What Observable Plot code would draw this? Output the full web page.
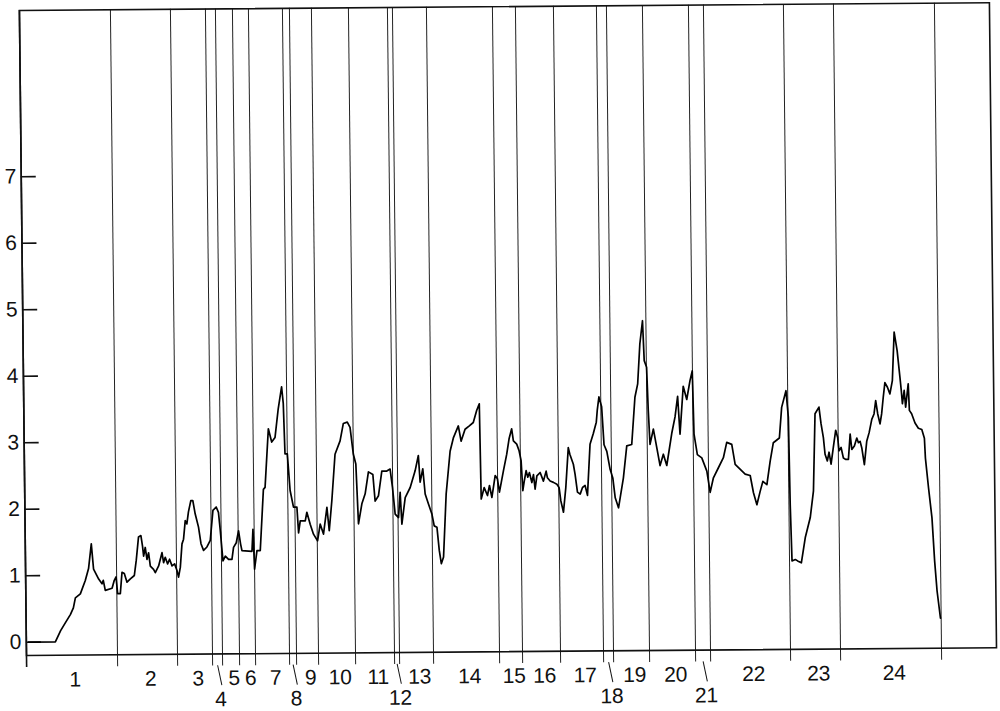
<!DOCTYPE html>
<html>
<head>
<meta charset="utf-8">
<script src="https://cdn.jsdelivr.net/npm/d3@7"></script>
<script src="https://cdn.jsdelivr.net/npm/@observablehq/plot@0.6"></script>
<style>
html, body { margin: 0; padding: 0; background: #fff; }
#chart svg { display: block; transform-origin: 26px 655px; transform: matrix(1, -0.008, 0.011, 1, 0, 0); }
</style>
</head>
<body>
<div id="chart"></div>
<script>
// Segment end positions (time units), one per numbered segment 1..24
const boundaries = [91, 151, 186, 196, 213, 229, 263, 270, 292, 329, 368, 373, 407, 473, 496, 534, 577, 587, 623, 669, 684, 764, 814, 915];
const segmentLabels = ["1","2","3","4","5","6","7","8","9","10","11","12","13","14","15","16","17","18","19","20","21","22","23","24"];
const lowerRowLabels = ["4","8","12","18","21"];
const yTicks = [0, 1, 2, 3, 4, 5, 6, 7];
const xDomain = [0, 970];
const yDomain = [-0.2, 9.5];

// Trace: [time, value]
const trace = [
[2,0],[29,0],[34.4,0.17],[39.3,0.29],[44.3,0.41],[47.4,0.51],[49.5,0.66],[54.5,0.72],[59.6,0.92],[63,1.10],[66,1.47],[68,1.09],[73,0.94],[76.3,0.87],[77.6,0.92],[79.5,0.77],[86.3,0.80],[88.6,0.92],[90.4,0.97],[91.8,0.72],[94.5,0.72],[96.4,1.04],[98.7,1.02],[101.3,0.89],
[104.7,0.94],[108.7,0.99],[110.8,1.22],[113.3,1.57],[115.7,1.59],[117.2,1.43],[118.2,1.28],[119.9,1.41],[121.5,1.23],[123.2,1.33],[124.8,1.13],[128,1.08],[129.7,1.03],[133.1,1.13],[136.6,1.33],[138.1,1.18],[139.8,1.26],[142.1,1.16],[144.1,1.23],[146.5,1.13],[149.1,1.16],[151.4,1.06],[152.9,0.96],[154.8,1.11],[156.7,1.46],[158.3,1.53],[160.2,1.81],[161.8,1.76],[163.5,1.94],[166,2.11],[168,2.11],[170.2,1.91],[173.4,1.71],[175.7,1.46],[178.2,1.36],[181.6,1.41],[185,1.51],[188,1.96],[191.3,2.01],[193.5,1.93],[195.1,1.66],[197.5,1.20],[199.9,1.27],[203.1,1.22],[206.5,1.22],[208.2,1.40],[211,1.47],[213.4,1.65],[215.3,1.45],[216.6,1.35],
[226.6,1.34],[227.8,1.67],[229,1.07],[231.6,1.35],[234.9,1.35],[238.7,2.27],[240.4,2.30],[244.3,3.18],[247.5,2.98],[250.9,3.05],[254.4,3.48],[258,3.81],[259.5,3.56],[260.7,2.80],[263,2.80],[265.4,2.25],[268.6,2.00],[272,2.00],[273.4,1.61],[275.2,1.79],[280.2,1.79],[281.9,1.92],[285.1,1.74],[288.3,1.59],[292.3,1.49],[295.1,1.74],[298.3,1.59],[302,1.99],[304.1,1.64],[307,2.09],[310.7,2.79],[315.9,2.99],[319.3,3.25],[323.3,3.27],[326,3.19],[329,2.79],[331.4,2.64],[333.4,1.74],[337,2.04],[340.4,2.19],[343.9,2.52],[348.3,2.48],[350.3,2.08],[353.7,2.16],[357.3,2.53],[362.3,2.53],[365.6,2.56],[367.8,2.28],[370.2,1.88],[373.5,1.83],[375.4,2.21],[376.8,1.73],[380.4,2.13],[385.5,2.28],[390.6,2.53],[394,2.76],[395.5,2.36],[398.3,2.56],[400.4,2.18],[403.6,2.03],[406.9,1.88],[409.1,1.70],[411.8,1.68],[413.9,1.33],[415.8,1.13],[418.1,1.23],[421.4,2.18],[425.8,2.82],[429.2,3.02],[434.3,3.20],[436.9,2.97],[441,3.15],[445.3,3.20],[449.3,3.25],[452.8,3.43],[455.5,3.53],[456.4,2.10],[459.5,2.27],[462.7,2.15],[464.8,2.30],[467.1,2.12],[470.6,2.45],[472.8,2.40],[474.7,2.20],
[478.9,2.52],[482.4,2.77],[484.9,3.00],[487.6,3.15],[489.2,2.97],[492.5,2.92],[494.8,2.82],[496.7,2.67],[498.1,2.22],[499.5,2.35],[501.6,2.52],[503.2,2.42],[504.9,2.49],[507.2,2.34],[508.9,2.46],[510.4,2.24],[512.3,2.44],[515.6,2.49],[518.8,2.36],[521.6,2.51],[522.8,2.41],[525.5,2.36],[528.8,2.34],[532.2,2.31],[534.4,2.26],[536,2.06],[538.5,1.89],[541.1,2.26],[544,2.86],[545.5,2.76],[548.9,2.61],[550.5,2.46],[552.7,2.19],[555.4,2.16],[557.8,2.26],[560.4,2.29],[562.7,2.14],[565.8,2.91],[569.2,3.07],[572.3,3.24],
[573.4,3.42],[575.2,3.62],[577.8,3.47],[579.8,2.90],[582.5,2.80],[585.6,2.53],[588.2,2.40],[590.4,2.10],[593.6,1.95],[598.8,2.40],[602.5,2.88],[607.5,2.90],[611.2,3.61],[614.1,3.81],[616.7,4.41],[619.6,4.76],[620.9,4.16],[623.2,4.06],[624.4,3.41],[625.8,2.90],[629.3,3.13],[632.5,2.85],[635.6,2.58],[639,2.75],[642.3,2.58],[647.6,3.06],[651.1,3.31],[653.9,3.62],[655.9,3.05],[659.6,3.77],[663,3.57],[666.4,3.85],[668.8,4.00],[669.9,3.05],[673,2.74],[677.4,2.69],[682.3,2.49],[685.4,2.17],[688.8,2.39],[693.9,2.54],[699,2.69],[702.5,2.92],[707.5,2.89],[710.7,2.59],[714,2.54],[720.6,2.44],[725.6,2.42],[728.7,2.16],[732,1.98],[735.4,2.18],[738.2,2.33],[742.2,2.28],[745.7,2.63],[749.1,2.91],[755.2,2.98],[757.8,3.44],[762.3,3.69],[764.4,3.29],[765.3,1.98],[766.5,1.13],[769.8,1.15],[772.1,1.13],[775.8,1.10],[780,1.48],[785.2,1.78],[788.7,2.18],
[791.1,3.34],[795.1,3.44],[797,3.19],[799.2,2.98],[800.7,2.73],[802.9,2.63],[804.7,2.76],[806.6,2.58],[809,2.83],[811.6,3.09],[813.5,2.98],[814.7,2.78],[816.8,2.83],[819,2.67],[821.4,2.65],[824,2.65],[826,3.03],[827.5,2.80],[830.1,2.85],[832.6,2.97],[834.2,2.90],[835.9,2.92],[837.5,2.82],[839.9,2.57],[842.5,2.92],[845,3.05],[847.8,3.25],[850.1,3.33],[851.9,3.53],[853.8,3.33],[856,3.18],[857.7,3.33],[859.5,3.58],[861.3,3.80],[863.8,3.73],[866.2,3.63],[868.8,3.83],[871.1,4.56],[873.9,4.28],[876.4,3.88],[877.6,3.68],[878.6,3.48],[880.5,3.68],[881.8,3.43],[884.6,3.78],[885.5,3.38],[887.7,3.33],[891,3.19],[894.3,3.11],[897.7,3.09],[900.2,2.96],[901,2.66],[903.8,2.21],[906.9,1.76],[909.1,1.11],[911.2,0.66],[914.3,0.25]
];

// Derived label table (segment centres from the boundaries)
const edges = [xDomain[0], ...boundaries];
const labels = segmentLabels.map((label, i) => ({
  label,
  mid: (edges[i] + edges[i + 1]) / 2,
  lower: lowerRowLabels.includes(label)
}));
const upper = labels.filter(d => !d.lower);
const lower = labels.filter(d => d.lower);

const ink = "#111";
const font = "'Liberation Sans', Arial, sans-serif";

const chart = Plot.plot({
  width: 1000,
  height: 711,
  marginLeft: 26,
  marginRight: 4,
  marginTop: 10,
  marginBottom: 56,
  x: {domain: xDomain, axis: null},
  y: {domain: yDomain, axis: null},
  style: {fontFamily: font, fontSize: "21px", color: ink, background: "#fff", overflow: "visible"},
  marks: [
    Plot.ruleX(boundaries, {y1: -0.38, y2: yDomain[1], stroke: "#222", strokeWidth: 1}),
    Plot.ruleX([xDomain[0]], {y1: -0.38, y2: yDomain[1], stroke: ink, strokeWidth: 1.6}),
    Plot.frame({stroke: ink, strokeWidth: 1.6}),
    Plot.ruleY(yTicks, {x1: 0, x2: 15, stroke: ink, strokeWidth: 1.6}),
    Plot.axisY(yTicks, {anchor: "left", tickSize: 0, tickPadding: 5, tickFormat: d => String(d), fontSize: 21, label: null}),
    Plot.line(trace, {x: d => d[0], y: d => d[1], stroke: "#000", strokeWidth: 1.7}),
    Plot.text(upper, {x: "mid", text: "label", frameAnchor: "bottom", lineAnchor: "middle", dy: 24.5, dx: 3, fontSize: 21, fill: ink}),
    Plot.text(lower, {x: "mid", text: "label", frameAnchor: "bottom", lineAnchor: "middle", dy: 45.5, dx: 3, fontSize: 21, fill: ink}),
    Plot.link(lower, {x1: "mid", x2: d => d.mid + 4, y1: -0.37, y2: -0.67, stroke: ink, strokeWidth: 1})
  ]
});

document.getElementById("chart").appendChild(chart);
</script>
</body>
</html>
